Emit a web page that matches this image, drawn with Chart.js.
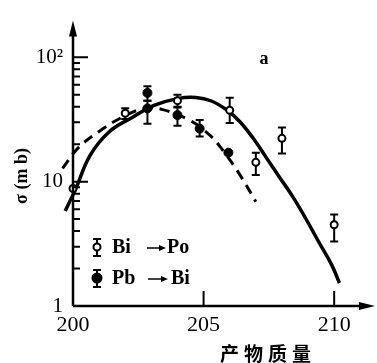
<!DOCTYPE html>
<html>
<head>
<meta charset="utf-8">
<script src="https://cdn.jsdelivr.net/npm/chart.js@4.4.0/dist/chart.umd.min.js"></script>
<style>
html, body { margin: 0; padding: 0; background: #fff; }
#wrap { width: 377px; height: 363px; }
</style>
</head>
<body>
<div id="wrap"><canvas id="chart" width="377" height="363"></canvas></div>
<script>
// Bi -> Po (open circles)
const biPoMass = [200, 202, 204, 206, 207, 208, 210];
const biPoSigma = [8.8, 35.5, 44.8, 37.5, 14.3, 22.3, 4.5];
const biPoLow = [null, 31.9, 40, 29.6, 11.3, 16.8, 3.3];
const biPoHigh = [null, 38.9, 49.9, 47.2, 17.1, 27.2, 5.45];

// Pb -> Bi (filled circles)
const pbBiMass = [202.85, 202.85, 204, 204.85, 205.95];
const pbBiSigma = [51.7, 38.8, 34.3, 26.7, 17.1];
const pbBiLow = [44.8, 29.2, 28.2, 23.1, null];
const pbBiHigh = [58.4, 44.8, 39.5, 31.3, null];

// solid curve
const solidMass = [199.7, 200.1, 200.65, 201.4, 202.3, 203.1, 204.0, 204.7, 205.3, 205.9, 206.4, 206.9, 207.4, 207.9, 208.4, 208.9, 209.4, 209.9, 210.2];
const solidSigma = [5.8, 8.7, 16.2, 25.3, 33.1, 41, 46.5, 47.5, 44.5, 37.5, 30.2, 22.3, 15.6, 10.9, 7.65, 5.1, 3.3, 2.15, 1.53];

// dashed curve
const dashMass = [199.6, 200.2, 201.0, 201.9, 202.75, 203.4, 204.45, 205.25, 205.75, 206.35, 207.0];
const dashSigma = [12.8, 18.7, 25.3, 33.1, 38.8, 38.1, 31.3, 23.5, 17.7, 11.7, 6.9];

// axis ticks
const xTicks = [200, 205, 210];
const yTicks = [1, 10, 100];
const yTickLabels = ['1', '10', '10²'];
const yMinor = [2, 3, 4, 5, 6, 7, 8, 9, 20, 30, 40, 50, 60, 70, 80, 90];

const pts = (xs, ys) => xs.map((x, i) => ({ x: x, y: ys[i] }));

const serif = '"Liberation Serif", "DejaVu Serif", serif';

// error bars under the points
const errorBars = {
    id: 'errorBars',
    beforeDatasetsDraw(chart) {
        const { ctx, scales: { x, y } } = chart;
        ctx.save();
        ctx.strokeStyle = '#000';
        ctx.lineWidth = 2;
        chart.data.datasets.forEach(ds => {
            if (!ds.errLow) return;
            ds.data.forEach((p, i) => {
                if (ds.errLow[i] == null) return;
                const px = x.getPixelForValue(p.x);
                const y1 = y.getPixelForValue(ds.errLow[i]);
                const y2 = y.getPixelForValue(ds.errHigh[i]);
                ctx.beginPath();
                ctx.moveTo(px, y1); ctx.lineTo(px, y2);
                ctx.moveTo(px - 4, y1); ctx.lineTo(px + 4, y1);
                ctx.moveTo(px - 4, y2); ctx.lineTo(px + 4, y2);
                ctx.stroke();
            });
        });
        ctx.restore();
    }
};

// axes with arrows, inward ticks, legend and texts
const decor = {
    id: 'decor',
    afterDraw(chart) {
        const { ctx, chartArea: a, scales: { x, y } } = chart;
        ctx.save();
        ctx.strokeStyle = '#000';
        ctx.fillStyle = '#000';
        ctx.lineWidth = 2.5;
        ctx.beginPath();
        ctx.moveTo(a.left, a.bottom); ctx.lineTo(a.left, a.top + 6);
        ctx.moveTo(a.left, a.bottom); ctx.lineTo(a.right - 6, a.bottom);
        ctx.stroke();
        ctx.beginPath();
        ctx.moveTo(a.left, a.top - 2); ctx.lineTo(a.left - 4, a.top + 14); ctx.lineTo(a.left + 4, a.top + 14);
        ctx.closePath(); ctx.fill();
        ctx.beginPath();
        ctx.moveTo(a.right + 4, a.bottom); ctx.lineTo(a.right - 12, a.bottom - 4); ctx.lineTo(a.right - 12, a.bottom + 4);
        ctx.closePath(); ctx.fill();

        ctx.lineWidth = 2;
        ctx.beginPath();
        yMinor.forEach(v => {
            const py = y.getPixelForValue(v);
            ctx.moveTo(a.left, py); ctx.lineTo(a.left + 7, py);
        });
        [10, 100].forEach(v => {
            const py = y.getPixelForValue(v);
            ctx.moveTo(a.left, py); ctx.lineTo(a.left + 15, py);
        });
        [205, 210].forEach(v => {
            const px = x.getPixelForValue(v);
            ctx.moveTo(px, a.bottom); ctx.lineTo(px, a.bottom - 15);
        });
        ctx.stroke();

        // legend
        const lx = 97;
        [[247, false], [278, true]].forEach(([ly, filled]) => {
            ctx.lineWidth = 2;
            ctx.beginPath();
            ctx.moveTo(lx, ly - 8); ctx.lineTo(lx, ly + 9);
            ctx.moveTo(lx - 4, ly - 8); ctx.lineTo(lx + 4, ly - 8);
            ctx.moveTo(lx - 4, ly + 9); ctx.lineTo(lx + 4, ly + 9);
            ctx.stroke();
            ctx.beginPath();
            ctx.arc(lx, ly, filled ? 4.5 : 3.5, 0, Math.PI * 2);
            ctx.fillStyle = filled ? '#000' : '#fff';
            ctx.fill();
            ctx.stroke();
        });
        ctx.fillStyle = '#000';
        ctx.font = 'bold 20px ' + serif;
        ctx.textBaseline = 'middle';
        ctx.textAlign = 'left';
        ctx.fillText('Bi', 112, 248);
        ctx.fillText('Po', 167, 248);
        ctx.fillText('Pb', 112, 279);
        ctx.fillText('Bi', 171, 279);
        const arrow = (x1, x2, ay) => {
            ctx.lineWidth = 1.5;
            ctx.beginPath(); ctx.moveTo(x1, ay); ctx.lineTo(x2 - 5, ay); ctx.stroke();
            ctx.beginPath(); ctx.moveTo(x2, ay); ctx.lineTo(x2 - 7, ay - 3); ctx.lineTo(x2 - 7, ay + 3);
            ctx.closePath(); ctx.fill();
        };
        arrow(147, 166, 248);
        arrow(148, 168, 279);

        // panel letter
        ctx.font = 'bold 18px ' + serif;
        ctx.textAlign = 'center';
        ctx.fillText('a', 264, 59);

        // axis titles
        ctx.font = 'bold 19px "Noto Sans CJK SC", sans-serif';
        ctx.letterSpacing = '5px';
        ctx.textAlign = 'center';
        ctx.fillText('产物质量', 268, 354);
        ctx.letterSpacing = '0px';

        ctx.translate(22, 176);
        ctx.rotate(-Math.PI / 2);
        ctx.font = 'bold 18px ' + serif;
        ctx.fillText('σ (m b)', 0, 0);
        ctx.restore();
    }
};

const ctx = document.getElementById('chart').getContext('2d');
new Chart(ctx, {
    type: 'scatter',
    data: {
        datasets: [{
            label: 'Bi → Po',
            data: pts(biPoMass, biPoSigma),
            errLow: biPoLow,
            errHigh: biPoHigh,
            pointRadius: 3.5,
            pointBorderWidth: 2,
            pointBackgroundColor: '#fff',
            pointBorderColor: '#000',
            clip: false
        }, {
            label: 'Pb → Bi',
            data: pts(pbBiMass, pbBiSigma),
            errLow: pbBiLow,
            errHigh: pbBiHigh,
            pointRadius: 4.5,
            pointBorderWidth: 1,
            pointBackgroundColor: '#000',
            pointBorderColor: '#000',
            clip: false
        }, {
            label: 'solid',
            data: pts(solidMass, solidSigma),
            showLine: true,
            pointRadius: 0,
            borderColor: '#000',
            borderWidth: 3.5,
            tension: 0.4,
            clip: false
        }, {
            label: 'dashed',
            data: pts(dashMass, dashSigma),
            showLine: true,
            pointRadius: 0,
            borderColor: '#000',
            borderWidth: 3,
            borderDash: [10, 7],
            tension: 0.4,
            clip: false
        }]
    },
    options: {
        responsive: false,
        animation: false,
        events: [],
        layout: { padding: { left: 0, top: 12, right: 5, bottom: 0 } },
        plugins: { legend: { display: false }, tooltip: { enabled: false } },
        scales: {
            x: {
                type: 'linear',
                min: 200,
                max: 211.41,
                afterBuildTicks: s => { s.ticks = xTicks.map(v => ({ value: v })); },
                afterFit: s => { s.height = 57; },
                grid: { display: false, drawTicks: false },
                border: { display: false },
                ticks: {
                    autoSkip: false,
                    maxRotation: 0,
                    padding: 6,
                    color: '#000',
                    font: { family: serif, size: 22 },
                    callback: v => String(v)
                }
            },
            y: {
                type: 'logarithmic',
                min: 1,
                max: 190,
                afterBuildTicks: s => { s.ticks = yTicks.map(v => ({ value: v })); },
                afterFit: s => { s.width = 73; },
                grid: { display: false, drawTicks: false },
                border: { display: false },
                ticks: {
                    autoSkip: false,
                    padding: 10,
                    color: '#000',
                    font: { family: serif, size: 21 },
                    callback: v => yTickLabels[yTicks.indexOf(v)]
                }
            }
        }
    },
    plugins: [errorBars, decor]
});
</script>
</body>
</html>
